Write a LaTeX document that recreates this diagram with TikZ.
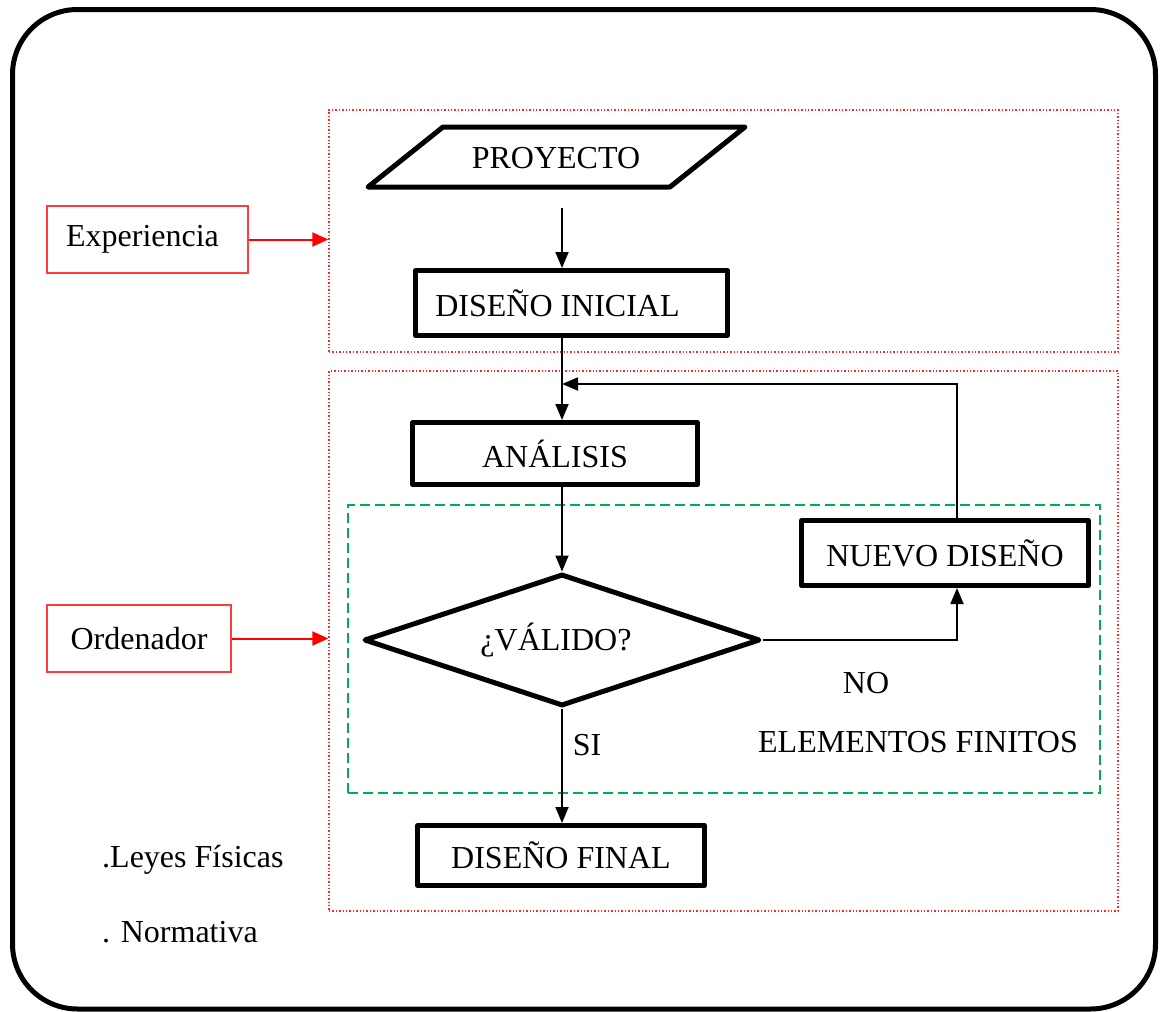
\documentclass[tikz,border=0pt]{standalone}
\usepackage{fontspec}
\setmainfont{Liberation Serif}
\usetikzlibrary{arrows.meta,shapes.geometric}
\definecolor{zonered}{RGB}{255,40,40}
\definecolor{boxred}{RGB}{255,60,60}
\definecolor{loopgreen}{RGB}{0,176,80}
\begin{document}
\begin{tikzpicture}[x=1pt,y=-1pt,
  every node/.style={font=\fontsize{32}{38}\selectfont, inner sep=0pt},
  block/.style={draw, line width=5pt, line join=round},
  zone/.style={draw=zonered, line width=1.4pt, dotted},
  sidebox/.style={draw=boxred, line width=1.5pt},
  flow/.style={line width=1.8pt, -{Triangle[length=16pt,width=13pt]}},
  redflow/.style={draw=red, line width=2pt, -{Triangle[length=16pt,width=14pt]}, red}]
\useasboundingbox (0,0) rectangle (1160,1012);

% outer frame
\draw[line width=5pt, rounded corners=65pt] (12.5,9.5) rectangle (1155.5,1009);

% dotted zones and the dashed analysis loop
\node[zone, minimum width=789pt, minimum height=242pt] (z1) at (723.5,231) {};
\node[zone, minimum width=789pt, minimum height=540pt] (z2) at (723.5,641) {};
\node[draw=loopgreen, line width=2.6pt, dash pattern=on 10pt off 5pt,
      minimum width=752pt, minimum height=288pt] (fe) at (724,649) {};

% side labels
\node[sidebox, minimum width=201pt, minimum height=67pt] (exp) at (147.5,239.5) {\kern-10pt Experiencia};
\node[sidebox, minimum width=184pt, minimum height=67pt] (ord) at (139,638.5) {Ordenador};
\draw[redflow] (exp.east) -- (exp.east -| z1.west);
\draw[redflow] (ord.east) -- (ord.east -| z2.west);

% input
\draw[block] (443,127) -- (745,127) -- (670,187) -- (368,187) -- cycle;
\node (proy) at (556,158) {PROYECTO};
\coordinate (pstart) at (562,208);

% process blocks
\node[block, minimum width=312pt, minimum height=65pt] (ini) at (571.5,303) {\kern-28pt DISEÑO INICIAL};
\node[block, minimum width=285pt, minimum height=62pt] (ana) at (555,453.5) {ANÁLISIS};
\node[block, diamond, aspect=3, minimum width=396pt, minimum height=132pt] (val) at (562,640) {\kern-12pt ¿VÁLIDO?};
\node[block, minimum width=287pt, minimum height=65pt] (nuevo) at (945,553) {NUEVO DISEÑO};
\node[block, minimum width=287pt, minimum height=60pt] (final) at (561,855.5) {DISEÑO FINAL};

% connectors
\coordinate (join) at (562,384);
\draw[flow] (pstart) -- (pstart |- ini.north);
\draw[flow] (ini.south -| val.north) -- (ana.north -| val.north);
\draw[flow] (ana.south -| val.north) -- (val.north);
\draw[flow] (val.south) -- (final.north -| val.south);
\draw[flow] (val.east) -| ([xshift=12pt]nuevo.south);
\draw[flow] ([xshift=12pt]nuevo.north) |- (join);

% branch labels
\node (si) at (587,745) {SI};
\node (no) at (866,683) {NO};
\node (fem) at (918,742) {ELEMENTOS FINITOS};

% notes
\node[anchor=west] (leyes) at (102,860) {.Leyes Físicas};
\node[anchor=west] (norma) at (102,932) {. Normativa};
\end{tikzpicture}
\end{document}
